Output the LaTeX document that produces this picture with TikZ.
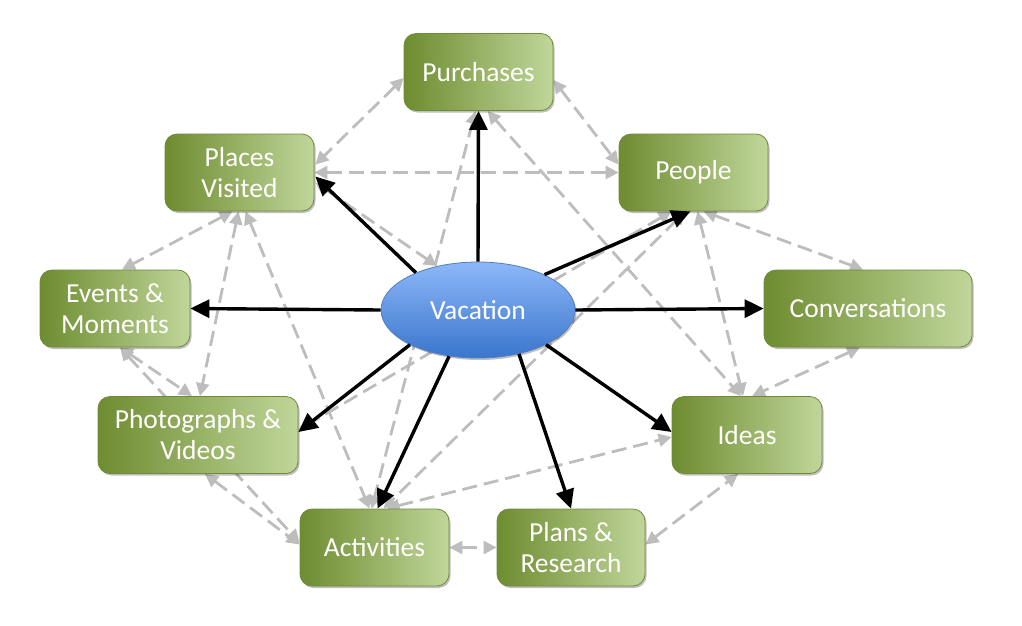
\documentclass[tikz,border=0pt]{standalone}
\usepackage{fontspec}
\setmainfont{Carlito}
\usetikzlibrary{arrows.meta,calc,shadows,shapes.geometric}
\pgfdeclarelayer{background}
\pgfsetlayers{background,main}

\definecolor{boxdark}{HTML}{6E8C30}
\definecolor{boxlight}{HTML}{C0D69A}
\definecolor{boxline}{HTML}{6F8B3A}
\definecolor{vactop}{HTML}{8DB7F8}
\definecolor{vacbottom}{HTML}{3A76CC}
\definecolor{vacline}{HTML}{4F7FC4}
\definecolor{linkgray}{HTML}{BDBDBD}

\begin{document}
\begin{tikzpicture}[x=1pt,y=-1pt,
  topic/.style={rectangle, rounded corners=12pt, draw=boxline, line width=0.8pt,
    left color=boxdark, right color=boxlight, text=white, align=center,
    font=\fontsize{27.5}{31}\selectfont, minimum height=77pt, inner sep=0pt,
    drop shadow={shadow xshift=1.5pt, shadow yshift=-2pt, opacity=0.25, fill=black}},
  hub/.style={ellipse, draw=vacline, line width=0.8pt, top color=vactop,
    bottom color=vacbottom, text=white, minimum width=194pt, minimum height=96pt,
    inner sep=0pt, font=\fontsize{27.5}{31}\selectfont,
    drop shadow={shadow xshift=1.5pt, shadow yshift=-2pt, opacity=0.25, fill=black}},
  link/.style={draw=linkgray, line width=2.8pt, dash pattern=on 15pt off 7pt,
    {Triangle[length=13pt,width=13pt]}-{Triangle[length=13pt,width=13pt]}},
  spoke/.style={draw=black, line width=3.4pt, -{Triangle[length=19pt,width=18pt]}}
]
\useasboundingbox (0,0) rectangle (1022,625);

% topic boxes
\node[topic, minimum width=149pt] (pu) at (478.5,72)  {Purchases};
\node[topic, minimum width=149pt] (pv) at (239.5,172.5) {Places\\Visited};
\node[topic, minimum width=149pt] (pe) at (693.5,172.5) {People};
\node[topic, minimum width=150pt] (ev) at (115,308.5) {Events \&\\Moments};
\node[topic, minimum width=208pt] (co) at (868,308.5) {Conversations};
\node[topic, minimum width=200pt] (ph) at (198,435) {Photographs \&\\Videos};
\node[topic, minimum width=150pt] (id) at (747,435) {Ideas};
\node[topic, minimum width=149pt] (ac) at (374.5,547.5) {Activities};
\node[topic, minimum width=148pt] (pl) at (571,547.5) {Plans \&\\Research};

% central topic
\node[hub] (vac) at (478,310) {Vacation};

% cross links between topics, kept under the boxes
\begin{pgfonlayer}{background}
\draw[link] ($(pu.west)+(0,6)$) -- ($(pv.east)+(1,-8)$);
\draw[link] (pv.east) -- (pe.west);
\draw[link] ($(pu.east)+(0,8)$) -- ($(pe.west)+(0,-8)$);
\draw[link] ($(pu.south)+(9,0)$) -- ($(id.north)+(-6,0)$);
\draw[link] ($(pu.south)+(-3,0)$) -- ($(ac.north)+(-3,0)$);
\draw[link] ($(pv.east)+(1,10)$) -- (vac.133);
\draw[link] ($(pe.south)+(10,0)$) -- ($(co.north)+(-5,0)$);
\draw[link] ($(pe.south)+(4,0)$) -- ($(id.north)+(-4,0)$);
\draw[link] ($(co.south)+(-8,0)$) -- ($(id.north)+(5,0)$);
\draw[link] ($(pe.south)+(-22,0)$) -- ($(ph.east)+(0,-5)$);
\draw[link] ($(pe.south)+(-8,0)$) -- ($(ac.north)+(9,0)$);
\draw[link] ($(pv.south)+(-7,0)$) -- ($(ev.north)+(7,0)$);
\draw[link] ($(pv.south)+(-1,0)$) -- ($(ph.north)+(2,0)$);
\draw[link] ($(pv.south)+(6,0)$) -- ($(ac.north)+(-5,0)$);
\draw[link] ($(ev.south)+(5,0)$) -- ($(ph.north)+(-6,0)$);
\draw[link] ($(ev.south)+(5,0)$) -- ($(ac.west)+(0,-5)$);
\draw[link] ($(ph.south)+(7,0)$) -- ($(ac.west)+(0,-3)$);
\draw[link] (ac.east) -- (pl.west);
\draw[link] ($(pl.east)+(0,-3)$) -- ($(id.south)+(-9,0)$);
\draw[link] ($(ac.north)+(12,0)$) -- ($(id.west)+(0,2)$);
\end{pgfonlayer}

% spokes from the central topic
\draw[spoke] (vac.north) -- (pu.south);
\draw[spoke] (vac.149) -- ($(pv.east)+(1,4)$);
\draw[spoke] (vac.28) -- ($(pe.south)+(-3,0)$);
\draw[spoke] (vac.west) -- (ev.east);
\draw[spoke] (vac.east) -- (co.west);
\draw[spoke] (vac.207) -- ($(ph.east)+(0,-3)$);
\draw[spoke] (vac.238) -- ($(ac.north)+(3,0)$);
\draw[spoke] (vac.-47) -- (pl.north);
\draw[spoke] (vac.-27) -- ($(id.west)+(0,-3)$);
\end{tikzpicture}
\end{document}
